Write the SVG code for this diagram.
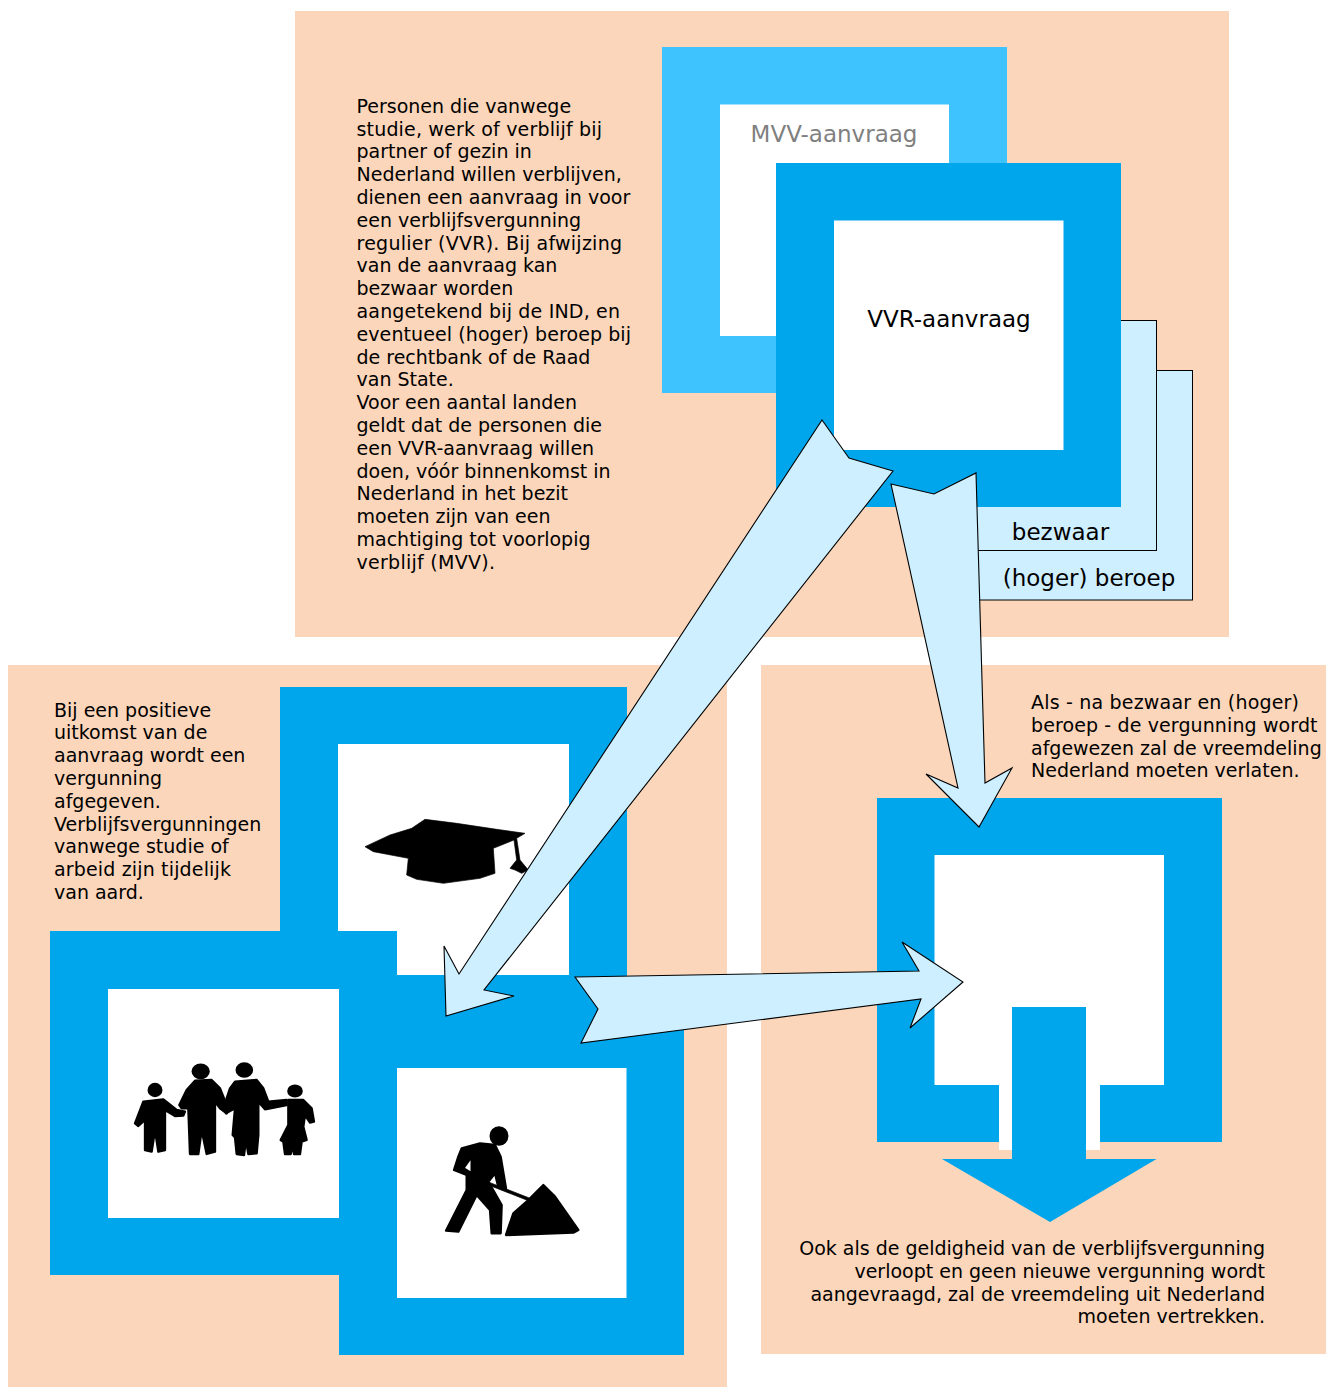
<svg xmlns="http://www.w3.org/2000/svg" width="1326" height="1387" viewBox="0 0 1326 1387">
<style>
.peach{fill:#FBD6BA}
.blue{fill:#00A6EC}
.sky{fill:#3EC3FF}
.white{fill:#FFFFFF}
.paper{fill:#CEEFFF;stroke:#000000;stroke-width:1}
.arrow{fill:#CEEFFF;stroke:#000000;stroke-width:1.1;stroke-linejoin:miter}
text{font-family:"DejaVu Sans",Verdana,sans-serif;fill:#000000}
.body{font-size:19px}
.label{font-size:23px}
.icon{fill:#000000;stroke:#000000;stroke-width:7;stroke-linejoin:round;filter:url(#soft)}
.thin{stroke-width:2}
</style>
<defs>
<filter id="soft" x="-5%" y="-5%" width="110%" height="110%"><feGaussianBlur stdDeviation="0.6"/></filter>
</defs>
<rect x="0" y="0" width="1326" height="1387" fill="#FFFFFF"/>
<g id="panel-top"><rect class="peach" x="295" y="11" width="934" height="626"/></g>
<g id="panel-left"><rect class="peach" x="8" y="665" width="719" height="722"/></g>
<g id="panel-right"><rect class="peach" x="761" y="665" width="565" height="689"/></g>

<g id="intro-text"><text class="body" x="356.500" y="113">Personen die vanwege</text>
<text class="body" x="356.500" y="135.800" textLength="245.500">studie, werk of verblijf bij</text>
<text class="body" x="356.500" y="158">partner of gezin in</text>
<text class="body" x="356.500" y="181">Nederland willen verblijven,</text>
<text class="body" x="356.500" y="204">dienen een aanvraag in voor</text>
<text class="body" x="356.500" y="227">een verblijfsvergunning</text>
<text class="body" x="356.500" y="250" textLength="265.500">regulier (VVR). Bij afwijzing</text>
<text class="body" x="356.500" y="272">van de aanvraag kan</text>
<text class="body" x="356.500" y="295">bezwaar worden</text>
<text class="body" x="356.500" y="318" textLength="263.500">aangetekend bij de IND, en</text>
<text class="body" x="356.500" y="341" textLength="274.500">eventueel (hoger) beroep bij</text>
<text class="body" x="356.500" y="364">de rechtbank of de Raad</text>
<text class="body" x="356.500" y="386">van State.</text>
<text class="body" x="356.500" y="409">Voor een aantal landen</text>
<text class="body" x="356.500" y="432">geldt dat de personen die</text>
<text class="body" x="356.500" y="455">een VVR-aanvraag willen</text>
<text class="body" x="356.500" y="478">doen, vóór binnenkomst in</text>
<text class="body" x="356.500" y="500">Nederland in het bezit</text>
<text class="body" x="356.500" y="523">moeten zijn van een</text>
<text class="body" x="356.500" y="546">machtiging tot voorlopig</text>
<text class="body" x="356.500" y="569" textLength="138.500">verblijf (MVV).</text></g>

<g id="node-beroep"><rect class="paper" x="960" y="370.500" width="232.500" height="229.500"/><text class="label" x="1089" y="586" text-anchor="middle">(hoger) beroep</text></g>
<g id="node-bezwaar"><rect class="paper" x="960" y="320.500" width="196.500" height="230"/><text class="label" x="1060.500" y="540" text-anchor="middle">bezwaar</text></g>
<g id="node-mvv"><rect class="sky" x="662" y="47" width="345" height="346"/><rect class="white" x="720" y="104.500" width="229" height="231.500"/><text class="label" x="834" y="142" text-anchor="middle" style="fill:#808080">MVV-aanvraag</text></g>
<g id="node-vvr"><rect class="blue" x="776" y="163" width="345" height="344"/><rect class="white" x="834" y="220.500" width="229.500" height="229.500"/><text class="label" x="949" y="327" text-anchor="middle">VVR-aanvraag</text></g>

<g id="result-text"><text class="body" x="54" y="717">Bij een positieve</text>
<text class="body" x="54" y="739">uitkomst van de</text>
<text class="body" x="54" y="762">aanvraag wordt een</text>
<text class="body" x="54" y="785">vergunning</text>
<text class="body" x="54" y="808">afgegeven.</text>
<text class="body" x="54" y="831">Verblijfsvergunningen</text>
<text class="body" x="54" y="853">vanwege studie of</text>
<text class="body" x="54" y="876" textLength="177">arbeid zijn tijdelijk</text>
<text class="body" x="54" y="899">van aard.</text></g>

<g id="node-study"><rect class="blue" x="280" y="687" width="347" height="345"/><rect class="white" x="338" y="744" width="231" height="231"/>
<g transform="translate(340 790) scale(.33333)"><path class="icon thin" d="M75 170L150 135L215 115L255 88L350 100L470 118L555 130L530 145L540 210L565 240L545 250L525 240L510 235L530 210L522 150L460 175L465 250L420 265L310 280L230 268L200 255L205 205L100 185Z"/></g></g>
<g id="node-family"><rect class="blue" x="50" y="931" width="347" height="344"/><rect class="white" x="108" y="989" width="231" height="229"/>
<g transform="translate(120 1050) scale(.33333)" class="icon"><ellipse cx="105" cy="120" rx="19" ry="18"/><path d="M70 155L130 148L170 180L195 185L190 197L165 198L135 180L135 300L115 305L105 240L95 305L75 300L75 210L55 228L45 220Z"/><ellipse cx="242" cy="64" rx="24" ry="20"/><path d="M225 92L275 90L300 115L318 160L320 190L300 175L285 155L285 305L260 312L245 240L235 312L210 312L205 175L185 175L178 165L200 120Z"/><ellipse cx="373" cy="60" rx="23" ry="20"/><path d="M345 95L410 90L430 115L445 155L500 150L500 165L435 178L415 155L415 255L410 310L385 312L378 270L372 315L350 312L345 262L338 255L345 175L318 190L315 160L330 115Z"/><ellipse cx="525" cy="123" rx="20" ry="16"/><path d="M505 150L550 150L575 175L582 215L570 218L555 195L550 230L560 270L545 275L540 312L522 312L518 285L512 312L495 312L490 275L482 270L505 225L505 165Z"/></g></g>
<g id="node-work"><rect class="blue" x="339" y="1011" width="345" height="344"/><rect class="white" x="397" y="1068" width="229.500" height="230"/>
<g transform="translate(430 1110) scale(.33333)" class="icon"><ellipse cx="207" cy="78" rx="25" ry="26"/><path fill-rule="evenodd" d="M95 115L150 100L195 105L212 140L228 235L205 232L195 190L175 215L215 285L212 370L185 370L180 300L140 255L85 365L48 362L110 240L110 195L72 180L85 140ZM125 140L100 175L125 190Z"/><path class="thin" d="M165 212L298 264L295 272L162 220Z"/><path d="M228 375L250 310L295 270L340 225L375 260L445 360L430 368Z"/></g></g>

<g id="node-exit"><rect class="blue" x="877" y="798" width="345" height="344"/><rect class="white" x="934.500" y="855" width="229.500" height="230"/><rect class="white" x="999" y="1085" width="101" height="65"/><path class="blue" d="M1012 1007H1086V1159H1156.500L1050 1222L942 1159H1012Z"/></g>

<g id="exit-text"><text class="body" x="1031" y="709" textLength="268">Als - na bezwaar en (hoger)</text>
<text class="body" x="1031" y="732" textLength="286.500">beroep - de vergunning wordt</text>
<text class="body" x="1031" y="755">afgewezen zal de vreemdeling</text>
<text class="body" x="1031" y="777">Nederland moeten verlaten.</text>
<text class="body" x="1265" y="1255" text-anchor="end">Ook als de geldigheid van de verblijfsvergunning</text>
<text class="body" x="1265" y="1278" text-anchor="end">verloopt en geen nieuwe vergunning wordt</text>
<text class="body" x="1265" y="1301" text-anchor="end">aangevraagd, zal de vreemdeling uit Nederland</text>
<text class="body" x="1265" y="1323" text-anchor="end">moeten vertrekken.</text></g>

<g id="connectors">
<path class="arrow" d="M822 420L849 458L893 471L484 990L514 996L446 1016L444 946L459 974Z"/>
<path class="arrow" d="M891 484L934 494L976 473L985 783L1012 768L979 827L926 774L958 788Z"/>
<path class="arrow" d="M575 977L919 971L902 942L963 982L910 1028L921 999L581 1043L598 1009Z"/>
</g>
</svg>
